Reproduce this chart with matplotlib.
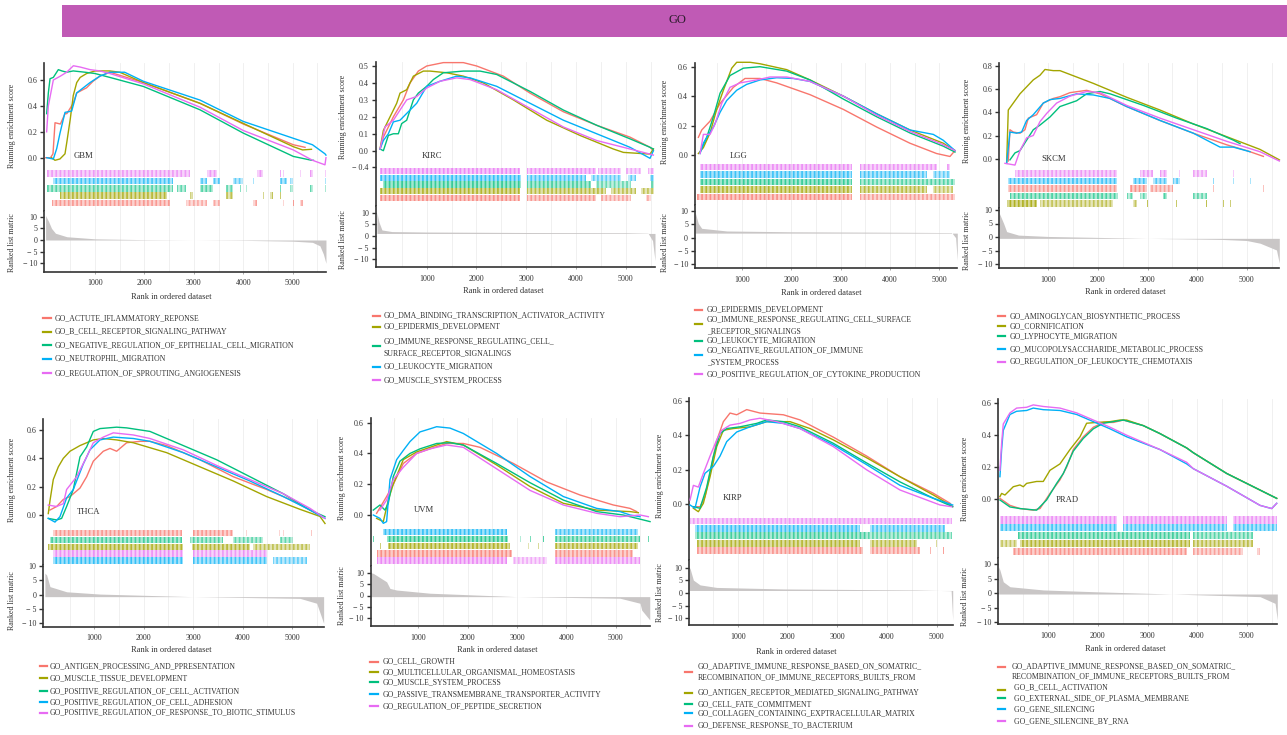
import matplotlib
matplotlib.use('Agg')
import matplotlib.pyplot as plt
from matplotlib.lines import Line2D
from matplotlib.patches import Rectangle

plt.rcParams['font.family'] = ['Liberation Serif', 'DejaVu Serif']
plt.rcParams['hatch.linewidth'] = 1.2

W, H = 1287, 735
COLORS = ['#F8766D', '#A3A500', '#00BF7D', '#00B0F6', '#E76BF3']

# ---------------- data ----------------
# curves: (rank list, running ES list) for red, olive, green, blue, magenta
# rug: hit spans (start rank, end rank, density); rug_order: rows top -> bottom

gbm_sets = ['GO_ACTUTE_IFLAMMATORY_REPONSE', 'GO_B_CELL_RECEPTOR_SIGNALING_PATHWAY',
            'GO_NEGATIVE_REGULATION_OF_EPITHELIAL_CELL_MIGRATION', 'GO_NEUTROPHIL_MIGRATION',
            'GO_REGULATION_OF_SPROUTING_ANGIOGENESIS']
gbm_curves = [
    ([0, 100, 150, 191, 300, 393, 430, 560, 630, 730, 830, 960, 1100, 1300, 1980, 3124, 4000, 5012, 5250],
     [0, 0.0, 0.03, 0.27, 0.26, 0.34, 0.34, 0.42, 0.50, 0.52, 0.54, 0.59, 0.63, 0.66, 0.58, 0.42, 0.26, 0.10, 0.08]),
    ([120, 190, 290, 393, 430, 500, 560, 630, 700, 830, 1000, 1300, 1500, 1980, 3124, 4000, 5012, 5200, 5380],
     [0.0, -0.02, -0.01, 0.03, 0.12, 0.30, 0.48, 0.58, 0.62, 0.65, 0.67, 0.67, 0.66, 0.58, 0.42, 0.265, 0.085, 0.06, 0.065]),
    ([22, 56, 90, 157, 258, 330, 427, 560, 800, 1000, 1300, 1980, 3124, 4000, 5012, 5383, 5420],
     [0.34, 0.50, 0.61, 0.62, 0.68, 0.67, 0.66, 0.67, 0.66, 0.65, 0.62, 0.55, 0.37, 0.19, 0.01, -0.02, -0.02]),
    ([22, 157, 225, 292, 393, 528, 629, 764, 899, 1100, 1300, 1600, 1980, 3124, 4000, 5012, 5400, 5653, 5673],
     [0.0, -0.01, 0.07, 0.19, 0.35, 0.36, 0.50, 0.54, 0.58, 0.63, 0.66, 0.66, 0.59, 0.445, 0.28, 0.15, 0.10, 0.03, 0.02]),
    ([22, 56, 157, 300, 427, 562, 700, 900, 1100, 1300, 1980, 3124, 4000, 5012, 5400, 5653, 5673],
     [0.20, 0.40, 0.60, 0.63, 0.66, 0.71, 0.70, 0.68, 0.67, 0.65, 0.57, 0.39, 0.21, 0.06, -0.02, -0.055, 0.0]),
]
gbm_rug = [
    [(123, 2517, 0.6), (2850, 3260, 0.4), (3390, 3530, 0.4), (4200, 4270, 0.5), (4800, 4830, 0.5), (5000, 5030, 0.5), (5140, 5210, 0.4)],
    [(292, 2450, 0.7), (2920, 2990, 0.6), (3660, 3800, 0.5), (4400, 4420, 0.6), (4540, 4610, 0.5), (4740, 4760, 0.6), (5340, 5360, 0.5)],
    [(22, 2585, 0.5), (2650, 2850, 0.4), (3120, 3390, 0.5), (3660, 3800, 0.4), (3925, 3945, 0.5), (4060, 4080, 0.5), (4740, 4760, 0.5), (4945, 5012, 0.4), (5350, 5420, 0.4), (5645, 5665, 0.6)],
    [(157, 2585, 0.6), (3120, 3260, 0.5), (3390, 3530, 0.5), (3800, 4000, 0.4), (4195, 4215, 0.6), (4740, 4880, 0.5), (4945, 5012, 0.4), (5645, 5665, 0.6)],
    [(22, 2920, 0.5), (3260, 3460, 0.5), (4270, 4400, 0.5), (4735, 4755, 0.6), (4800, 4820, 0.6), (5140, 5160, 0.5), (5350, 5420, 0.5), (5645, 5665, 0.6)],
]
gbm_rug_order = [4, 3, 2, 1, 0]
gbm_metric_rank = [0, 60, 120, 200, 430, 1000, 2000, 3000, 4000, 5000, 5400, 5550, 5620, 5673]
gbm_metric_val = [10.5, 8, 5, 2.9, 1.4, 0.5, 0.15, 0, -0.15, -0.5, -1.0, -2.5, -6, -10]
gbm_metric_base = 0.0

kirc_sets = ['GO_DMA_BINDING_TRANSCRIPTION_ACTIVATOR_ACTIVITY', 'GO_EPIDERMIS_DEVELOPMENT',
             'GO_IMMUNE_RESPONSE_REGULATING_CELL_\nSURFACE_RECEPTOR_SIGNALINGS', 'GO_LEUKOCYTE_MIGRATION',
             'GO_MUSCLE_SYSTEM_PROCESS']
kirc_curves = [
    ([62, 129, 330, 531, 665, 832, 1000, 1335, 1737, 2005, 2541, 3077, 3747, 4417, 5087, 5489, 5556],
     [0.01, 0.08, 0.20, 0.30, 0.40, 0.47, 0.50, 0.52, 0.52, 0.50, 0.44, 0.34, 0.23, 0.15, 0.08, 0.02, 0.0]),
    ([62, 129, 263, 397, 464, 598, 732, 933, 1067, 1402, 1737, 2139, 2742, 3412, 4082, 4752, 4953, 5489, 5556],
     [0.01, 0.12, 0.20, 0.28, 0.34, 0.36, 0.44, 0.47, 0.47, 0.46, 0.44, 0.40, 0.30, 0.18, 0.09, 0.01, -0.01, -0.02, 0.01]),
    ([62, 129, 229, 330, 430, 497, 598, 732, 832, 1000, 1134, 1335, 1737, 2072, 2407, 3077, 3747, 4417, 5087, 5489, 5556],
     [0.01, 0.0, 0.09, 0.10, 0.10, 0.16, 0.18, 0.30, 0.34, 0.38, 0.42, 0.46, 0.47, 0.47, 0.45, 0.35, 0.24, 0.15, 0.07, 0.02, 0.01]),
    ([62, 129, 229, 330, 464, 598, 799, 1000, 1268, 1603, 1871, 2407, 3077, 3747, 4417, 5087, 5489, 5556],
     [0.01, 0.06, 0.10, 0.17, 0.18, 0.22, 0.28, 0.38, 0.41, 0.44, 0.43, 0.38, 0.28, 0.18, 0.10, 0.02, -0.045, 0.0]),
    ([62, 162, 330, 464, 598, 799, 1000, 1268, 1603, 1871, 2407, 3077, 3747, 4417, 4953, 5422, 5556],
     [0.01, 0.14, 0.18, 0.24, 0.30, 0.32, 0.37, 0.41, 0.43, 0.42, 0.36, 0.25, 0.14, 0.06, 0.02, -0.015, -0.026]),
]
kirc_rug = [
    [(62, 2880, 0.75), (3010, 4400, 0.6), (4500, 5100, 0.45), (5400, 5500, 0.4)],
    [(62, 2880, 0.75), (3020, 4600, 0.6), (4700, 5200, 0.5), (5300, 5560, 0.45)],
    [(120, 2900, 0.7), (3020, 4300, 0.55), (4400, 5100, 0.35), (5500, 5560, 0.4)],
    [(62, 2900, 0.7), (3020, 4200, 0.55), (4300, 4900, 0.4), (5050, 5200, 0.4), (5480, 5560, 0.5)],
    [(62, 2880, 0.7), (3010, 4400, 0.6), (4450, 4900, 0.45), (5000, 5300, 0.35), (5450, 5560, 0.4)],
]
kirc_rug_order = [4, 3, 2, 1, 0]
kirc_metric_rank = [0, 40, 100, 300, 1000, 3000, 5000, 5450, 5540, 5589]
kirc_metric_val = [10, 6, 2.6, 1.9, 1.7, 1.5, 1.4, 1.2, -2, -10.6]
kirc_metric_base = 1.1

lgg_sets = ['GO_EPIDERMIS_DEVELOPMENT', 'GO_IMMUNE_RESPONSE_REGULATING_CELL_SURFACE\n_RECEPTOR_SIGNALINGS',
            'GO_LEUKOCYTE_MIGRATION', 'GO_NEGATIVE_REGULATION_OF_IMMUNE\n_SYSTEM_PROCESS',
            'GO_POSITIVE_REGULATION_OF_CYTOKINE_PRODUCTION']
lgg_curves = [
    ([123, 191, 359, 562, 831, 1067, 1371, 1708, 2383, 3057, 3732, 4406, 4945, 5216, 5317],
     [0.12, 0.17, 0.23, 0.35, 0.46, 0.52, 0.52, 0.49, 0.41, 0.31, 0.19, 0.08, 0.01, -0.01, 0.03]),
    ([123, 224, 359, 494, 629, 798, 899, 1169, 1371, 1911, 2383, 3057, 3732, 4406, 5080, 5317],
     [0.01, 0.05, 0.15, 0.31, 0.44, 0.59, 0.63, 0.63, 0.62, 0.58, 0.51, 0.40, 0.28, 0.17, 0.08, 0.03]),
    ([157, 292, 427, 562, 764, 1034, 1371, 1911, 2383, 3057, 3732, 4406, 5080, 5317],
     [0.02, 0.12, 0.26, 0.42, 0.54, 0.59, 0.60, 0.57, 0.51, 0.38, 0.26, 0.15, 0.06, 0.02]),
    ([157, 224, 292, 427, 562, 696, 899, 1101, 1371, 1708, 2045, 2383, 3057, 3732, 4406, 4878, 5080, 5317],
     [0.01, 0.08, 0.12, 0.19, 0.29, 0.37, 0.44, 0.48, 0.51, 0.525, 0.52, 0.50, 0.40, 0.28, 0.17, 0.14, 0.10, 0.03]),
    ([157, 224, 359, 460, 595, 764, 966, 1304, 1573, 1911, 2383, 3057, 3732, 4406, 5080, 5317],
     [0.01, 0.14, 0.14, 0.21, 0.35, 0.46, 0.49, 0.51, 0.53, 0.53, 0.50, 0.40, 0.27, 0.16, 0.07, 0.03]),
]
lgg_rug = [
    [(103, 3226, 0.75), (3395, 5317, 0.55)],
    [(157, 3226, 0.75), (3395, 4744, 0.6), (4880, 5283, 0.4)],
    [(157, 3226, 0.7), (3395, 5317, 0.5)],
    [(157, 3226, 0.65), (3395, 4744, 0.55), (4880, 5215, 0.4)],
    [(157, 3226, 0.65), (3395, 4946, 0.55), (5148, 5215, 0.5)],
]
lgg_rug_order = [4, 3, 2, 1, 0]
lgg_metric_rank = [55, 120, 190, 700, 2000, 4400, 5250, 5330, 5364]
lgg_metric_val = [9.7, 5.4, 3.5, 2.5, 2.2, 2.0, 1.9, 0, -8.5]
lgg_metric_base = 1.7

skcm_sets = ['GO_AMINOGLYCAN_BIOSYNTHETIC_PROCESS', 'GO_CORNIFICATION', 'GO_LYPHOCYTE_MIGRATION',
             'GO_MUCOPOLYSACCHARIDE_METABOLIC_PROCESS', 'GO_REGULATION_OF_LEUKOCYTE_CHEMOTAXIS']
skcm_curves = [
    ([193, 227, 294, 429, 529, 597, 765, 899, 1101, 1235, 1437, 1773, 2042, 2580, 3252, 3924, 4597, 5000, 5336],
     [-0.02, 0.25, 0.23, 0.22, 0.25, 0.35, 0.38, 0.48, 0.52, 0.535, 0.57, 0.59, 0.56, 0.45, 0.33, 0.22, 0.12, 0.07, 0.02]),
    ([160, 193, 294, 429, 563, 697, 832, 933, 1101, 1235, 1908, 2580, 3252, 3924, 4597, 5269, 5659],
     [-0.04, 0.42, 0.48, 0.56, 0.62, 0.68, 0.72, 0.77, 0.76, 0.76, 0.65, 0.53, 0.42, 0.30, 0.19, 0.08, -0.01]),
    ([227, 328, 429, 563, 697, 832, 1034, 1235, 1571, 1773, 2042, 2244, 2916, 3588, 4193, 4731, 4866],
     [-0.01, 0.05, 0.07, 0.16, 0.25, 0.29, 0.36, 0.45, 0.50, 0.56, 0.58, 0.56, 0.46, 0.35, 0.26, 0.16, 0.13]),
    ([160, 227, 361, 462, 563, 697, 899, 1034, 1235, 1571, 1908, 2244, 2580, 3252, 3924, 4462, 4731, 5067],
     [-0.04, 0.23, 0.22, 0.23, 0.33, 0.38, 0.48, 0.51, 0.52, 0.56, 0.55, 0.52, 0.45, 0.33, 0.22, 0.10, 0.10, 0.06]),
    ([126, 328, 429, 563, 697, 832, 966, 1168, 1437, 1773, 2042, 2580, 3252, 3924, 4597, 5269, 5659],
     [-0.04, -0.055, 0.07, 0.18, 0.20, 0.32, 0.39, 0.48, 0.54, 0.58, 0.57, 0.46, 0.35, 0.25, 0.15, 0.06, -0.02]),
]
skcm_rug = [
    [(193, 2378, 0.6), (2647, 2983, 0.7), (3050, 3521, 0.5), (4320, 4340, 0.6), (5326, 5346, 0.6)],
    [(160, 765, 0.85), (832, 2311, 0.45), (2714, 2781, 0.4), (2980, 3000, 0.5), (3580, 3600, 0.5), (4180, 4200, 0.5), (4520, 4540, 0.5), (4660, 4680, 0.5)],
    [(226, 2412, 0.55), (2580, 2714, 0.4), (2849, 2983, 0.4), (3318, 3386, 0.5), (3924, 4193, 0.4)],
    [(193, 2378, 0.6), (2714, 2983, 0.6), (3118, 3386, 0.5), (3521, 3655, 0.5), (4320, 4340, 0.6), (4720, 4740, 0.6), (5057, 5077, 0.6)],
    [(328, 2378, 0.5), (2849, 3118, 0.5), (3252, 3386, 0.5), (3645, 3665, 0.6), (3924, 4193, 0.4), (4721, 4741, 0.6)],
]
skcm_rug_order = [4, 3, 0, 2, 1]
skcm_metric_rank = [12, 100, 160, 400, 1000, 3000, 4500, 5000, 5270, 5600, 5657]
skcm_metric_val = [8.8, 5, 2, 0.7, 0.2, -0.5, -0.9, -1.3, -2.3, -4.8, -9.7]
skcm_metric_base = -0.5

thca_sets = ['GO_ANTIGEN_PROCESSING_AND_PPRESENTATION', 'GO_MUSCLE_TISSUE_DEVELOPMENT',
             'GO_POSITIVE_REGULATION_OF_CELL_ACTIVATION', 'GO_POSITIVE_REGULATION_OF_CELL_ADHESION',
             'GO_POSITIVE_REGULATION_OF_RESPONSE_TO_BIOTIC_STIMULUS']
thca_curves = [
    ([103, 238, 373, 508, 710, 845, 980, 1182, 1317, 1452, 1654, 1924, 2126, 2464, 3138, 3813, 4487, 4959, 5499],
     [0.035, 0.06, 0.11, 0.13, 0.19, 0.27, 0.38, 0.45, 0.47, 0.45, 0.51, 0.52, 0.52, 0.49, 0.39, 0.27, 0.18, 0.11, 0.01]),
    ([69, 103, 170, 272, 373, 508, 710, 980, 1182, 1452, 1789, 2464, 3138, 3813, 4487, 5162, 5566, 5668],
     [0.01, 0.10, 0.25, 0.34, 0.40, 0.45, 0.49, 0.53, 0.54, 0.53, 0.51, 0.44, 0.34, 0.24, 0.13, 0.04, -0.01, -0.06]),
    ([69, 238, 339, 440, 575, 710, 845, 980, 1115, 1452, 1654, 2126, 2801, 3475, 4150, 4824, 5364, 5668],
     [-0.024, -0.035, -0.024, 0.06, 0.18, 0.41, 0.48, 0.59, 0.61, 0.62, 0.615, 0.59, 0.49, 0.39, 0.27, 0.15, 0.035, -0.012]),
    ([69, 204, 305, 440, 575, 777, 912, 1115, 1384, 1789, 2126, 2801, 3475, 4150, 4824, 5364, 5668],
     [-0.024, -0.05, -0.012, 0.12, 0.18, 0.36, 0.46, 0.53, 0.55, 0.54, 0.52, 0.44, 0.34, 0.24, 0.13, 0.035, -0.024]),
    ([69, 238, 373, 440, 643, 845, 980, 1182, 1384, 1789, 2126, 2801, 3475, 4150, 4824, 5364, 5668],
     [0.07, 0.06, 0.08, 0.18, 0.27, 0.41, 0.51, 0.55, 0.58, 0.565, 0.54, 0.46, 0.35, 0.25, 0.15, 0.047, -0.024]),
]
thca_rug = [
    [(170, 2767, 0.6), (3003, 3813, 0.6), (4073, 4093, 0.5), (4747, 4767, 0.5), (4815, 4835, 0.5), (5388, 5408, 0.5)],
    [(69, 2801, 0.75), (2970, 4150, 0.7), (4218, 5364, 0.5), (5658, 5678, 0.6)],
    [(103, 2767, 0.6), (2936, 3610, 0.5), (3813, 4420, 0.4), (4757, 5027, 0.4)],
    [(170, 2801, 0.7), (3003, 4487, 0.6), (4622, 5297, 0.4)],
    [(170, 2801, 0.6), (3003, 4487, 0.5)],
]
thca_rug_order = [0, 2, 1, 4, 3]
thca_metric_rank = [0, 35, 103, 440, 1115, 3000, 5162, 5499, 5640]
thca_metric_val = [7.5, 6.9, 2.8, 1.0, 0.2, -0.7, -1.3, -3.0, -10]
thca_metric_base = -0.7

uvm_sets = ['GO_CELL_GROWTH', 'GO_MULTICELLULAR_ORGANISMAL_HOMEOSTASIS', 'GO_MUSCLE_SYSTEM_PROCESS',
            'GO_PASSIVE_TRANSMEMBRANE_TRANSPORTER_ACTIVITY', 'GO_REGULATION_OF_PEPTIDE_SECRETION']
uvm_curves = [
    ([155, 358, 493, 696, 966, 1236, 1574, 1912, 2250, 2926, 3601, 4277, 4953, 5291, 5426],
     [0.011, 0.12, 0.20, 0.335, 0.40, 0.43, 0.465, 0.465, 0.44, 0.335, 0.215, 0.13, 0.065, 0.043, 0.022]),
    ([155, 291, 392, 493, 696, 966, 1236, 1574, 1912, 2588, 3264, 3939, 4615, 5291, 5459],
     [-0.022, -0.043, 0.097, 0.20, 0.36, 0.41, 0.44, 0.477, 0.455, 0.325, 0.185, 0.076, 0.032, 0.022, 0.015]),
    ([88, 223, 324, 392, 493, 628, 831, 1034, 1372, 1642, 1912, 2588, 3264, 3939, 4615, 5155, 5696],
     [0.032, 0.065, 0.032, 0.076, 0.25, 0.35, 0.40, 0.43, 0.465, 0.47, 0.455, 0.335, 0.21, 0.097, 0.022, 0.0, -0.043]),
    ([88, 223, 291, 358, 426, 561, 696, 831, 1034, 1236, 1372, 1642, 1912, 2588, 3264, 3939, 4615, 5088, 5291, 5493],
     [0.0, -0.022, -0.054, -0.043, 0.23, 0.36, 0.42, 0.477, 0.54, 0.56, 0.574, 0.565, 0.53, 0.40, 0.25, 0.12, 0.043, 0.022, 0.0, -0.011]),
    ([223, 358, 493, 696, 966, 1236, 1574, 1912, 2588, 3264, 3939, 4615, 5088, 5493, 5662],
     [0.032, 0.097, 0.23, 0.31, 0.40, 0.43, 0.455, 0.44, 0.30, 0.16, 0.065, 0.011, -0.011, 0.0, -0.011]),
]
uvm_rug = [
    [(155, 2892, 0.75), (3770, 5358, 0.65)],
    [(223, 243, 0.5), (392, 2858, 0.8), (3215, 3235, 0.5), (3420, 3440, 0.5), (3770, 5459, 0.7)],
    [(88, 108, 0.5), (358, 2824, 0.75), (3062, 3082, 0.5), (3264, 3284, 0.5), (3534, 3554, 0.5), (3770, 5493, 0.6), (5652, 5672, 0.5)],
    [(291, 2791, 0.7), (3770, 5459, 0.55)],
    [(155, 2791, 0.7), (2926, 3601, 0.3), (3770, 5493, 0.6)],
]
uvm_rug_order = [3, 2, 1, 0, 4]
uvm_metric_rank = [35, 88, 358, 426, 561, 1236, 3000, 5088, 5493, 5527, 5690]
uvm_metric_val = [10, 9.7, 6, 3.1, 2.4, 1.0, -0.5, -1.2, -3.4, -6.4, -10.7]
uvm_metric_base = -0.5

kirp_sets = ['GO_ADAPTIVE_IMMUNE_RESPONSE_BASED_ON_SOMATRIC_\nRECOMBINATION_OF_IMMUNE_RECEPTORS_BUILTS_FROM',
             'GO_ANTIGEN_RECEPTOR_MEDIATED_SIGNALING_PATHWAY', 'GO_CELL_FATE_COMMITMENT',
             'GO_COLLAGEN_CONTAINING_EXPTRACELLULAR_MATRIX', 'GO_DEFENSE_RESPONSE_TO_BACTERIUM']
kirp_curves = [
    ([109, 243, 343, 444, 578, 712, 846, 980, 1181, 1449, 1918, 2253, 2923, 3593, 4263, 4933, 5268, 5322],
     [-0.014, -0.014, 0.045, 0.18, 0.37, 0.48, 0.53, 0.52, 0.55, 0.53, 0.52, 0.49, 0.39, 0.28, 0.16, 0.064, 0.006, -0.014]),
    ([109, 209, 310, 444, 578, 712, 913, 1248, 1583, 2052, 2454, 2923, 3593, 4263, 4933, 5268],
     [-0.023, -0.043, 0.006, 0.16, 0.335, 0.43, 0.44, 0.45, 0.48, 0.48, 0.44, 0.374, 0.27, 0.16, 0.054, -0.004]),
    ([109, 243, 377, 511, 645, 779, 1047, 1382, 1583, 1918, 2253, 2923, 3593, 4263, 4933, 5322],
     [-0.014, -0.023, 0.10, 0.28, 0.41, 0.44, 0.45, 0.47, 0.49, 0.48, 0.45, 0.354, 0.24, 0.13, 0.035, -0.014]),
    ([42, 142, 243, 343, 511, 645, 779, 980, 1248, 1583, 1918, 2253, 2923, 3593, 4263, 4933, 5322],
     [-0.004, -0.023, 0.10, 0.18, 0.22, 0.28, 0.364, 0.42, 0.45, 0.48, 0.47, 0.44, 0.345, 0.23, 0.11, 0.035, -0.004]),
    ([42, 109, 209, 310, 444, 578, 678, 846, 1047, 1248, 1449, 1784, 2253, 2923, 3593, 4263, 4799, 5067, 5300],
     [0.025, 0.11, 0.10, 0.18, 0.28, 0.374, 0.43, 0.46, 0.47, 0.49, 0.50, 0.48, 0.44, 0.335, 0.20, 0.083, 0.025, -0.004, -0.014]),
]
kirp_rug = [
    [(176, 3526, 0.65), (3660, 4665, 0.6), (4860, 4880, 0.5), (5124, 5144, 0.5)],
    [(176, 3459, 0.7), (3660, 4597, 0.55), (4988, 5008, 0.5)],
    [(142, 3593, 0.6), (3593, 5302, 0.45)],
    [(142, 3459, 0.65), (3660, 5168, 0.55)],
    [(42, 5302, 0.5)],
]
kirp_rug_order = [4, 3, 2, 1, 0]
kirp_metric_rank = [27, 42, 109, 243, 578, 1918, 4598, 5290, 5322]
kirp_metric_val = [10, 9.7, 5.1, 3.2, 2.2, 1.6, 1.2, 0.9, -10.7]
kirp_metric_base = 1.0

prad_sets = ['GO_ADAPTIVE_IMMUNE_RESPONSE_BASED_ON_SOMATRIC_\nRECOMBINATION_OF_IMMUNE_RECEPTORS_BUILTS_FROM',
             ' GO_B_CELL_ACTIVATION', ' GO_EXTERNAL_SIDE_OF_PLASMA_MEMBRANE', ' GO_GENE_SILENCING',
             ' GO_GENE_SILENCINE_BY_RNA']
prad_curves = [
    ([25, 227, 429, 697, 832, 1034, 1235, 1370, 1504, 1706, 1908, 2109, 2311, 2513, 2916, 3252, 3790, 3924, 4597, 5269, 5605],
     [0.004, -0.04, -0.06, -0.07, -0.06, 0.035, 0.12, 0.20, 0.31, 0.39, 0.45, 0.48, 0.48, 0.495, 0.46, 0.41, 0.32, 0.29, 0.16, 0.056, 0.004]),
    ([25, 59, 126, 227, 294, 429, 496, 563, 765, 899, 1034, 1235, 1437, 1639, 1773, 1975, 2244, 2445, 2580, 2916, 3252, 3790, 3924, 4597, 5269, 5605],
     [0.015, 0.035, 0.025, 0.056, 0.077, 0.088, 0.077, 0.098, 0.11, 0.11, 0.18, 0.22, 0.31, 0.39, 0.475, 0.48, 0.485, 0.495, 0.495, 0.46, 0.41, 0.32, 0.29, 0.16, 0.056, 0.004]),
    ([25, 227, 429, 765, 966, 1168, 1303, 1504, 1706, 1908, 2109, 2311, 2513, 2916, 3252, 3790, 3924, 4597, 5269, 5605],
     [-0.006, -0.05, -0.06, -0.07, -0.006, 0.098, 0.16, 0.30, 0.38, 0.44, 0.475, 0.485, 0.495, 0.46, 0.41, 0.32, 0.29, 0.16, 0.056, 0.004]),
    ([25, 59, 92, 227, 361, 563, 697, 899, 1235, 1571, 1908, 2244, 2580, 3252, 3790, 3924, 4597, 5269, 5504, 5605],
     [0.14, 0.31, 0.43, 0.53, 0.55, 0.555, 0.57, 0.56, 0.555, 0.53, 0.485, 0.44, 0.39, 0.31, 0.22, 0.19, 0.08, -0.04, -0.06, -0.027]),
    ([25, 59, 92, 227, 361, 563, 697, 899, 1235, 1571, 1908, 2244, 2580, 3252, 3790, 3924, 4597, 5269, 5504, 5605],
     [0.18, 0.35, 0.47, 0.54, 0.57, 0.575, 0.59, 0.58, 0.57, 0.54, 0.495, 0.45, 0.40, 0.31, 0.23, 0.19, 0.08, -0.04, -0.06, -0.027]),
]
prad_rug = [
    [(294, 3790, 0.65), (3924, 4933, 0.5), (5200, 5270, 0.5)],
    [(25, 361, 0.4), (429, 3857, 0.7), (3924, 5134, 0.55)],
    [(395, 3857, 0.6), (3924, 5134, 0.45)],
    [(25, 2378, 0.6), (2513, 4597, 0.55), (4731, 5605, 0.55)],
    [(25, 2378, 0.6), (2513, 4597, 0.6), (4731, 5605, 0.55)],
]
prad_rug_order = [4, 3, 2, 1, 0]
prad_metric_rank = [0, 25, 92, 227, 899, 1908, 3500, 5269, 5572, 5617]
prad_metric_val = [9, 7.9, 3.9, 2.2, 1.1, 0.5, -0.3, -1.2, -3.5, -9.2]
prad_metric_base = -0.3

# ---------------- layout (pixels) ----------------
layouts = {
    'GBM': dict(L=44.3, R=326, p1k=95, p5k=292.7, T=63, es_ref=((0.0, 157.7), (0.6, 80)), rug=(170, 206.7),
                Bm=211, met_ref=((10, 216.7), (-10, 263.3)), Bb=271.7, yticks=[0, 0.2, 0.4, 0.6], extra=None,
                tag=(770, 0.01), xlab=(171.7, 296.7), ylab_x=12, es_lab_y=126, met_lab_y=243,
                leg_x=(43, 51, 55), leg_marker=[318, 331.7, 345, 358.7, 373],
                leg_text=[[318], [331.7], [345], [358.7], [373]]),
    'KIRC': dict(L=375.7, R=655, p1k=426.7, p5k=625.7, T=62, es_ref=((0.0, 150.7), (0.5, 66)), rug=(167.3, 201.7),
                 Bm=206, met_ref=((10, 212.7), (-10, 259.3)), Bb=267.3, yticks=[0, 0.1, 0.2, 0.3, 0.4, 0.5],
                 extra=(167.3, '\u2212 0.4'), tag=(1107, -0.03), xlab=(503, 290.7), ylab_x=343,
                 es_lab_y=117, met_lab_y=240, leg_x=(373.3, 380, 383.3),
                 leg_marker=[315.7, 326.5, 346, 367, 380.5],
                 leg_text=[[315.7], [326], [341.7, 353.3], [366.7], [380]]),
    'LGG': dict(L=695, R=957.3, p1k=741.7, p5k=939.3, T=63, es_ref=((0.0, 155), (0.6, 66.7)), rug=(163.3, 200.7),
                Bm=205, met_ref=((10, 211), (-10, 264.3)), Bb=268.3, yticks=[0, 0.2, 0.4, 0.6], extra=None,
                tag=(945, -0.01), xlab=(821, 293.3), ylab_x=665, es_lab_y=122, met_lab_y=243,
                leg_x=(695, 702, 706.7), leg_marker=[310, 324, 341, 355, 374],
                leg_text=[[309.3], [319.3, 331], [340.7], [350.7, 362.3], [374]]),
    'SKCM': dict(L=999.3, R=1279.3, p1k=1048.3, p5k=1246.7, T=63, es_ref=((0.0, 158.7), (0.8, 66)), rug=(170, 207),
                 Bm=207.5, met_ref=((10, 210), (-10, 264)), Bb=268.3, yticks=[0, 0.2, 0.4, 0.6, 0.8], extra=None,
                 tag=(1115, 0.0), xlab=(1125, 292.3), ylab_x=967, es_lab_y=121, met_lab_y=241,
                 leg_x=(998, 1005, 1010), leg_marker=[316, 326, 336, 349, 361.7],
                 leg_text=[[316], [326], [336], [349], [361.7]]),
    'THCA': dict(L=43.3, R=324.3, p1k=94.3, p5k=292, T=419.3, es_ref=((0.0, 515), (0.6, 430)), rug=(529.3, 564),
                 Bm=564.5, met_ref=((10, 566), (-10, 623.3)), Bb=626.7, yticks=[0, 0.2, 0.4, 0.6], extra=None,
                 tag=(893, 0.024), xlab=(171, 650), ylab_x=11.7, es_lab_y=479.5, met_lab_y=601,
                 leg_x=(40, 47, 50), leg_marker=[666, 678.3, 691, 702.3, 712.7],
                 leg_text=[[666], [678.3], [691], [702.3], [712.7]]),
    'UVM': dict(L=370.7, R=650, p1k=418.3, p5k=615.7, T=418, es_ref=((0.0, 515), (0.6, 422.7)), rug=(528.3, 564),
                Bm=566, met_ref=((10, 572.7), (-10, 618.3)), Bb=626, yticks=[0, 0.2, 0.4, 0.6], extra=None,
                tag=(1115, 0.03), xlab=(497, 650), ylab_x=341.7, es_lab_y=478, met_lab_y=596,
                leg_x=(370, 378, 382.7), leg_marker=[661.7, 672.3, 682.3, 694, 706],
                leg_text=[[661.7], [672.3], [682.3], [694], [706]]),
    'KIRP': dict(L=689.3, R=952.7, p1k=737.7, p5k=936.7, T=398, es_ref=((0.0, 504.3), (0.6, 401)), rug=(517.3, 554.3),
                 Bm=560, met_ref=((10, 567.7), (-10, 618.3)), Bb=625, yticks=[0, 0.2, 0.4, 0.6], extra=None,
                 tag=(895, 0.035), xlab=(796, 652.3), ylab_x=660, es_lab_y=475.5, met_lab_y=593,
                 leg_x=(685, 692, 698), leg_marker=[671.7, 692.7, 704, 713.3, 725.7],
                 leg_text=[[666, 677.3], [692.3], [704], [713.3], [725.7]]),
    'PRAD': dict(L=998.3, R=1277.3, p1k=1048.3, p5k=1246.7, T=399.3, es_ref=((0.0, 499), (0.6, 403.3)), rug=(516, 555.7),
                 Bm=558, met_ref=((10, 564), (-10, 622.3)), Bb=624, yticks=[0, 0.2, 0.4, 0.6], extra=None,
                 tag=(1377, -0.006), xlab=(1125, 649), ylab_x=965, es_lab_y=479, met_lab_y=597,
                 leg_x=(998, 1005, 1011.7), leg_marker=[666.7, 690, 698.3, 709.3, 721],
                 leg_text=[[666, 676.7], [687.7], [698.3], [709.3], [721]]),
}

panels = [
    ('GBM', gbm_sets, gbm_curves, gbm_rug, gbm_rug_order, gbm_metric_rank, gbm_metric_val, gbm_metric_base),
    ('KIRC', kirc_sets, kirc_curves, kirc_rug, kirc_rug_order, kirc_metric_rank, kirc_metric_val, kirc_metric_base),
    ('LGG', lgg_sets, lgg_curves, lgg_rug, lgg_rug_order, lgg_metric_rank, lgg_metric_val, lgg_metric_base),
    ('SKCM', skcm_sets, skcm_curves, skcm_rug, skcm_rug_order, skcm_metric_rank, skcm_metric_val, skcm_metric_base),
    ('THCA', thca_sets, thca_curves, thca_rug, thca_rug_order, thca_metric_rank, thca_metric_val, thca_metric_base),
    ('UVM', uvm_sets, uvm_curves, uvm_rug, uvm_rug_order, uvm_metric_rank, uvm_metric_val, uvm_metric_base),
    ('KIRP', kirp_sets, kirp_curves, kirp_rug, kirp_rug_order, kirp_metric_rank, kirp_metric_val, kirp_metric_base),
    ('PRAD', prad_sets, prad_curves, prad_rug, prad_rug_order, prad_metric_rank, prad_metric_val, prad_metric_base),
]

SPINE = '#333333'
TXT = '#333333'
FS = 5.8


def lin(p, ref):
    (v0, p0), (v1, p1) = ref
    return v0 + (p - p0) * (v1 - v0) / (p1 - p0)


def fx(px):
    return px / W


def fy(py):
    return 1 - py / H


def px_axes(fig, L, R, T, B):
    return fig.add_axes([fx(L), fy(B), (R - L) / W, (B - T) / H])


def style(ax, bottom):
    for s in ['top', 'right']:
        ax.spines[s].set_visible(False)
    ax.spines['left'].set_color(SPINE)
    ax.spines['left'].set_linewidth(1.2)
    if bottom:
        ax.spines['bottom'].set_color(SPINE)
        ax.spines['bottom'].set_linewidth(1.2)
    else:
        ax.spines['bottom'].set_visible(False)
    ax.tick_params(axis='y', length=3, width=1, color=SPINE, labelsize=FS, labelcolor=TXT, pad=2)
    ax.tick_params(axis='x', length=1.5, width=0.6, color='#999999', labelsize=FS, labelcolor=TXT, pad=4)
    ax.set_xticks(range(500, 6000, 500), minor=True)
    ax.tick_params(axis='x', which='minor', length=0)
    ax.grid(axis='x', which='both', color='#eeeeee', linewidth=0.6)
    ax.set_axisbelow(True)


fig = plt.figure(figsize=(W / 100, H / 100), dpi=100)
fig.patch.set_facecolor('white')

# header bar
fig.add_artist(Rectangle((fx(62), fy(37)), (W - 62) / W, 32 / H, transform=fig.transFigure,
                         facecolor='#C05AB5', edgecolor='none'))
fig.text(fx(677), fy(20), 'GO', ha='center', va='center', fontsize=9, color='#2b1b2b')

for name, sets, curves, rug, rug_order, m_rank, m_val, m_base in panels:
    lay = layouts[name]
    xref = ((1000, lay['p1k']), (5000, lay['p5k']))
    xlim = (lin(lay['L'], xref), lin(lay['R'], xref))

    # running enrichment score + rug
    ax = px_axes(fig, lay['L'], lay['R'], lay['T'], lay['Bm'])
    style(ax, bottom=False)
    ax.set_xlim(*xlim)
    ax.set_ylim(lin(lay['Bm'], lay['es_ref']), lin(lay['T'], lay['es_ref']))
    for i, (r, e) in enumerate(curves):
        ax.plot(r, e, color=COLORS[i], lw=1.0, zorder=3, clip_on=False)
    rug_top = lin(lay['rug'][0], lay['es_ref'])
    rug_bot = lin(lay['rug'][1], lay['es_ref'])
    h = (rug_top - rug_bot) / 5
    for row, ci in enumerate(rug_order):
        y0 = rug_top - (row + 1) * h
        for s, e, d in rug[ci]:
            # light wash for the density plus vertical hatch for the individual hits
            ax.broken_barh([(s, e - s)], (y0 + 0.05 * h, 0.9 * h), facecolors=COLORS[ci],
                           alpha=0.12 + 0.35 * d, edgecolor='none', zorder=2)
            ax.broken_barh([(s, e - s)], (y0 + 0.05 * h, 0.9 * h), facecolors='none',
                           edgecolors=COLORS[ci], linewidth=0, hatch='||||',
                           alpha=0.25 + 0.6 * d, zorder=2)
    ticks = list(lay['yticks'])
    labels = ['%.1f' % t for t in ticks]
    if lay['extra'] is not None:
        ticks.append(lin(lay['extra'][0], lay['es_ref']))
        labels.append(lay['extra'][1])
    ax.set_yticks(ticks)
    ax.set_yticklabels(labels)
    ax.set_xticks([])
    ax.text(lay['tag'][0], lay['tag'][1], name, ha='center', va='center', fontsize=6.2, color=TXT)

    # ranked list metric
    bx = px_axes(fig, lay['L'], lay['R'], lay['Bm'], lay['Bb'])
    style(bx, bottom=True)
    bx.set_xlim(*xlim)
    bx.set_ylim(lin(lay['Bb'], lay['met_ref']), lin(lay['Bm'], lay['met_ref']))
    bx.fill_between(m_rank, m_val, m_base, color='#c9c6c6', linewidth=0, zorder=2)
    bx.set_yticks([10, 5, 0, -5, -10])
    bx.set_yticklabels(['10', '5', '0', '\u2212 5', '\u2212 10'])
    bx.set_xticks([1000, 2000, 3000, 4000, 5000])

    # axis titles
    fig.text(fx(lay['ylab_x']), fy(lay['es_lab_y']), 'Running enrichment score', rotation=90,
             ha='center', va='center', fontsize=FS, color=TXT)
    fig.text(fx(lay['ylab_x']), fy(lay['met_lab_y']), 'Ranked list matric', rotation=90,
             ha='center', va='center', fontsize=FS, color=TXT)
    fig.text(fx(lay['xlab'][0]), fy(lay['xlab'][1]), 'Rank in ordered dataset',
             ha='center', va='center', fontsize=FS + 0.2, color=TXT)

    # legend
    m0, m1, tx = lay['leg_x']
    for i, label in enumerate(sets):
        my = lay['leg_marker'][i]
        fig.add_artist(Line2D([fx(m0), fx(m1)], [fy(my), fy(my)], transform=fig.transFigure,
                              color=COLORS[i], lw=1.6))
        for line, ty in zip(label.split('\n'), lay['leg_text'][i]):
            fig.text(fx(tx), fy(ty), line, ha='left', va='center', fontsize=5.6, color=TXT)

fig.savefig('out.png', dpi=100, facecolor='white')
